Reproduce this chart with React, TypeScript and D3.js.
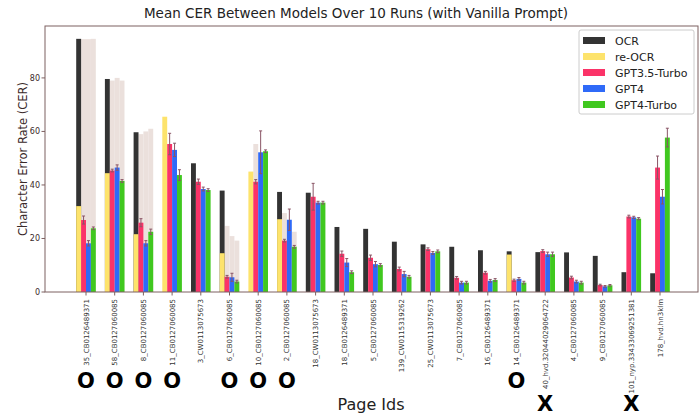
import React from "react";
import * as d3 from "d3";

const categories = [
  "35_CB0126489371", "58_CB0127060085", "8_CB0127060085", "11_CB0127060085",
  "3_CW0113075673", "6_CB0127060085", "10_CB0127060085", "2_CB0127060085",
  "18_CW0113075673", "18_CB0126489371", "5_CB0127060085", "139_CW0115319262",
  "25_CW0113075673", "7_CB0127060085", "16_CB0126489371", "14_CB0126489371",
  "40_hvd.32044029064722", "4_CB0127060085", "9_CB0127060085",
  "101_nyp.33433069251381", "178_hvd.hn3klm",
];

const ocr: (number | null)[] = [94.6, 79.6, 59.7, null, 48.1, 37.9, null, 37.4, 37.1, 24.3, 23.6, 18.8, 17.8, 16.9, 15.6, 15.2, 14.9, 14.8, 13.5, 7.4, 7.0];
const reocr: (number | null)[] = [32.1, 44.4, 21.6, 65.5, null, 14.5, 45.0, 27.2, null, null, null, null, null, null, null, 14.0, null, null, null, null, null];
const gpt35 = [26.9, 45.4, 25.9, 55.3, 41.2, 5.7, 41.2, 19.2, 35.6, 14.3, 12.8, 8.6, 16.0, 5.3, 7.2, 4.4, 15.3, 5.4, 2.6, 28.2, 46.5];
const gpt4 = [18.2, 46.5, 18.2, 53.1, 38.5, 5.5, 52.2, 27.0, 33.4, 11.0, 10.4, 6.7, 14.6, 3.5, 4.2, 4.9, 14.1, 3.9, 2.1, 27.9, 35.6];
const gpt4t = [23.8, 41.5, 22.5, 43.7, 38.1, 3.9, 52.6, 16.9, 33.4, 7.4, 10.1, 5.7, 15.2, 3.5, 4.5, 3.5, 14.1, 3.5, 2.5, 27.4, 57.7];

const err35 = [1.5, 0.5, 1.5, 4, 1, 0.5, 0.8, 0.5, 5, 1, 1, 0.7, 0.5, 0.5, 0.5, 0.4, 0.5, 0.5, 0.3, 0.5, 4.3];
const err4 = [1, 1, 1, 2.5, 0.7, 1.5, 8, 4, 0.5, 1.5, 1, 1, 0.5, 0.5, 0.5, 0.5, 0.8, 0.5, 0.3, 0.4, 2.7];
const err4t = [0.5, 0.5, 1, 2, 0.5, 0.5, 0.5, 0.5, 0.5, 0.5, 0.5, 0.5, 0.5, 0.5, 0.5, 0.5, 0.8, 0.5, 0.3, 0.4, 3.5];

// faint background bars seen behind the model bars
const ghost35 = [94.5, 79, 59, 0, 0, 24.7, 55.3, 29.5, 0, 0, 0, 0, 0, 0, 0, 0, 0, 0, 0, 0, 0];
const ghost4 = [94.5, 80, 60, 0, 0, 20.9, 0, 0, 0, 0, 0, 0, 0, 0, 0, 0, 0, 0, 0, 0, 0];
const ghost4t = [94.6, 79, 61, 0, 0, 19.2, 0, 22.5, 0, 0, 0, 0, 0, 0, 0, 0, 0, 0, 0, 0, 0];

const markers = ["O", "O", "O", "O", "", "O", "O", "O", "", "", "", "", "", "", "", "O", "X", "", "", "X", ""];

const yTicks = [0, 20, 40, 60, 80];
const legendLabels = ["OCR", "re-OCR", "GPT3.5-Turbo", "GPT4", "GPT4-Turbo"];
const colors = ["#333333", "#fde36c", "#fb3368", "#2f6af8", "#40c81f"];

export default function App() {
  const W = 700, H = 415;
  const left = 45, right = 698, top = 26, bottom = 292;
  const y = d3.scaleLinear().domain([0, 99.4]).range([bottom, top]);
  const x = d3.scaleLinear().domain([0, categories.length - 1]).range([86, 660]);
  const bw = 4.9;
  const off = [-1.5, -0.5, 0.5, 1.5].map((k) => k * bw);
  const font = "DejaVu Sans, sans-serif";
  const frame = "#7d6060";
  const errColor = "#8a5566";

  const modelSeries = [
    { vals: gpt35, err: err35, ghost: ghost35, color: colors[2], slot: 1 },
    { vals: gpt4, err: err4, ghost: ghost4, color: colors[3], slot: 2 },
    { vals: gpt4t, err: err4t, ghost: ghost4t, color: colors[4], slot: 3 },
  ];

  return (
    <svg width={W} height={H} style={{ position: "absolute", left: 0, top: 0, background: "#fff" }}>
      <rect x={0} y={0} width={W} height={H} fill="#fff" />
      <text x={356} y={18} textAnchor="middle" fontFamily={font} fontSize={13.5} fill="#222">
        Mean CER Between Models Over 10 Runs (with Vanilla Prompt)
      </text>

      {/* ghost bars */}
      {modelSeries.map((s, si) =>
        s.ghost.map((g, i) =>
          g > 0 ? (
            <rect key={`g${si}-${i}`} x={x(i) + off[s.slot] - bw / 2} y={y(g)} width={bw} height={y(0) - y(g)} fill="#e9ddd8" opacity={0.9} />
          ) : null
        )
      )}

      {/* OCR and re-OCR overlapping in first slot */}
      {ocr.map((v, i) =>
        v != null ? <rect key={`o${i}`} x={x(i) + off[0] - bw / 2} y={y(v)} width={bw} height={y(0) - y(v)} fill={colors[0]} /> : null
      )}
      {reocr.map((v, i) =>
        v != null ? <rect key={`r${i}`} x={x(i) + off[0] - bw / 2} y={y(v)} width={bw} height={y(0) - y(v)} fill={colors[1]} /> : null
      )}

      {modelSeries.map((s, si) =>
        s.vals.map((v, i) => (
          <rect key={`m${si}-${i}`} x={x(i) + off[s.slot] - bw / 2} y={y(v)} width={bw} height={y(0) - y(v)} fill={s.color} />
        ))
      )}

      {/* error bars */}
      {modelSeries.map((s, si) =>
        s.vals.map((v, i) => {
          const cx = x(i) + off[s.slot];
          const e = s.err[i];
          return (
            <g key={`e${si}-${i}`} stroke={errColor} strokeWidth={1}>
              <line x1={cx} x2={cx} y1={y(v - e)} y2={y(v + e)} />
              <line x1={cx - 1.5} x2={cx + 1.5} y1={y(v + e)} y2={y(v + e)} />
              <line x1={cx - 1.5} x2={cx + 1.5} y1={y(v - e)} y2={y(v - e)} />
            </g>
          );
        })
      )}

      {/* frame */}
      <rect x={left} y={top} width={right - left} height={bottom - top} fill="none" stroke={frame} strokeWidth={1} />

      {/* y axis */}
      {yTicks.map((t) => (
        <g key={`yt${t}`}>
          <line x1={left - 3.5} x2={left} y1={y(t)} y2={y(t)} stroke={frame} />
          <text x={left - 5} y={y(t) + 3} textAnchor="end" fontFamily={font} fontSize={8} fill="#3a2a2a">{t}</text>
        </g>
      ))}
      <text transform={`translate(27,159) rotate(-90)`} textAnchor="middle" fontFamily={font} fontSize={13}
        textLength={154} lengthAdjust="spacingAndGlyphs" fill="#3a2a2a">
        Character Error Rate (CER)
      </text>

      {/* x axis */}
      {categories.map((c, i) => (
        <g key={`xt${i}`}>
          <line x1={x(i)} x2={x(i)} y1={bottom} y2={bottom + 3.5} stroke={frame} />
          <text transform={`translate(${x(i) + 2.5},${bottom + 7}) rotate(-90)`} textAnchor="end" fontFamily={font} fontSize={7} fill="#333">
            {c}
          </text>
        </g>
      ))}
      <text x={371} y={410} textAnchor="middle" fontFamily={font} fontSize={16} fill="#222">Page Ids</text>

      {/* markers */}
      {markers.map((m, i) =>
        m ? (
          <text key={`mk${i}`} x={x(i)} y={m === "O" ? 388 : 411} textAnchor="middle" fontFamily={font} fontWeight="bold" fontSize={21} fill="#000">
            {m}
          </text>
        ) : null
      )}

      {/* legend */}
      <rect x={579} y={30} width={115} height={84} fill="#fff" stroke="#cccccc" rx={2} />
      {legendLabels.map((l, i) => (
        <g key={`lg${i}`}>
          <rect x={583} y={37 + i * 16} width={22} height={7} fill={colors[i]} />
          <text x={615} y={45 + i * 16} fontFamily={font} fontSize={11} fill="#222">{l}</text>
        </g>
      ))}
    </svg>
  );
}
